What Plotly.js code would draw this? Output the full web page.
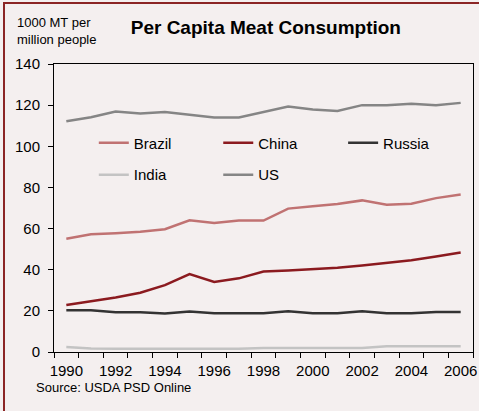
<!DOCTYPE html>
<html>
<head>
<meta charset="utf-8">
<script src="https://cdn.plot.ly/plotly-3.0.1.min.js"></script>
<style>
  html, body { margin: 0; padding: 0; background: #ffffff; }
  #wrap { position: relative; width: 479px; height: 411px; }
  #chart { position: absolute; left: 0; top: 0; width: 479px; height: 411px; }
  #frame { position: absolute; left: 3px; top: 2px; width: 476px; height: 409px;
           border-left: 2px solid #8b2525; border-top: 2px solid #8b2525;
           box-sizing: border-box; pointer-events: none; }
</style>
</head>
<body>
<div id="wrap">
  <div id="chart"></div>
  <div id="frame"></div>
</div>
<script>
const years  = [1990, 1991, 1992, 1993, 1994, 1995, 1996, 1997, 1998, 1999, 2000, 2001, 2002, 2003, 2004, 2005, 2006];
const brazil = [55.1, 57.2, 57.7, 58.4, 59.7, 64.0, 62.7, 63.9, 63.9, 69.7, 70.9, 72.0, 73.7, 71.6, 72.1, 74.8, 76.6];
const china  = [22.8, 24.7, 26.5, 28.8, 32.5, 37.9, 34.0, 35.8, 39.1, 39.6, 40.2, 40.9, 42.0, 43.3, 44.6, 46.4, 48.4];
const russia = [20.3, 20.3, 19.3, 19.3, 18.7, 19.7, 18.8, 18.8, 18.8, 19.8, 18.8, 18.8, 19.8, 18.8, 18.8, 19.4, 19.4];
const india  = [2.4, 1.7, 1.6, 1.6, 1.6, 1.6, 1.6, 1.6, 2.0, 2.0, 2.0, 2.0, 2.0, 2.8, 2.8, 2.8, 2.8];
const us     = [112.2, 114.1, 116.9, 115.9, 116.7, 115.3, 114.0, 114.0, 116.7, 119.3, 117.9, 117.2, 120.0, 120.0, 120.7, 119.9, 121.1];
const yTicks = [0, 20, 40, 60, 80, 100, 120, 140];
const xLabels = [1990, 1992, 1994, 1996, 1998, 2000, 2002, 2004, 2006];

const FONT = 'Liberation Sans, Arial, sans-serif';

function tr(name, y, color, legend) {
  return { x: years, y: y, name: name, type: 'scatter', mode: 'lines',
           line: { color: color, width: 2.5 }, legend: legend };
}

const data = [
  tr('Brazil', brazil, '#c07272', 'legend'),
  tr('China',  china,  '#8b1a1f', 'legend2'),
  tr('Russia', russia, '#333333', 'legend3'),
  tr('India',  india,  '#c3c3c3', 'legend4'),
  tr('US',     us,     '#858585', 'legend5')
];

function leg(x, y) {
  return {
    x: x, y: y, xanchor: 'left', yanchor: 'middle',
    bgcolor: 'rgba(0,0,0,0)', borderwidth: 0,
    font: { family: FONT, size: 15, color: '#000' }
  };
}

const layout = {
  width: 479, height: 411,
  margin: { l: 54, r: 6, t: 64, b: 59, pad: 0 },
  paper_bgcolor: '#f4efef', plot_bgcolor: '#f4efef',
  font: { family: FONT, color: '#000' },
  title: { text: '<b>Per Capita Meat Consumption</b>', font: { family: FONT, size: 19, color: '#000' },
           xref: 'container', yref: 'container', x: 0.555, xanchor: 'center', y: 0.934, yanchor: 'middle' },
  showlegend: true,
  legend:  leg(0.095, 0.726),
  legend2: leg(0.392, 0.726),
  legend3: leg(0.690, 0.726),
  legend4: leg(0.095, 0.615),
  legend5: leg(0.392, 0.615),
  xaxis: {
    range: [1989.5, 2006.5], tickmode: 'array', tickvals: xLabels,
    ticks: 'outside', ticklen: 5, tickcolor: 'rgba(0,0,0,0)',
    tickfont: { family: FONT, size: 15, color: '#000' },
    showline: true, linecolor: '#000', linewidth: 1, mirror: true,
    showgrid: false, zeroline: false,
    minor: { tick0: 1989.5, dtick: 1, ticks: 'outside', ticklen: 5, tickcolor: '#000', tickwidth: 1, showgrid: false }
  },
  yaxis: {
    range: [0, 140], tickmode: 'array', tickvals: yTicks,
    ticks: 'outside', ticklen: 5, tickcolor: '#000', tickwidth: 1,
    ticklabelstandoff: 5,
    tickfont: { family: FONT, size: 15, color: '#000' },
    showline: true, linecolor: '#000', linewidth: 1, mirror: true,
    showgrid: false, zeroline: false
  },
  annotations: [
    { text: '1000 MT per<br>million people', xref: 'paper', yref: 'paper',
      x: -0.093, xanchor: 'left', y: 1.116, yanchor: 'middle', align: 'left', showarrow: false,
      font: { family: FONT, size: 13, color: '#000' } },
    { text: 'Source: USDA PSD Online', xref: 'paper', yref: 'paper',
      x: -0.048, xanchor: 'left', y: -0.122, yanchor: 'middle', align: 'left', showarrow: false,
      font: { family: FONT, size: 13, color: '#000' } }
  ]
};

Plotly.newPlot('chart', data, layout, { displayModeBar: false, staticPlot: true });
</script>
</body>
</html>
